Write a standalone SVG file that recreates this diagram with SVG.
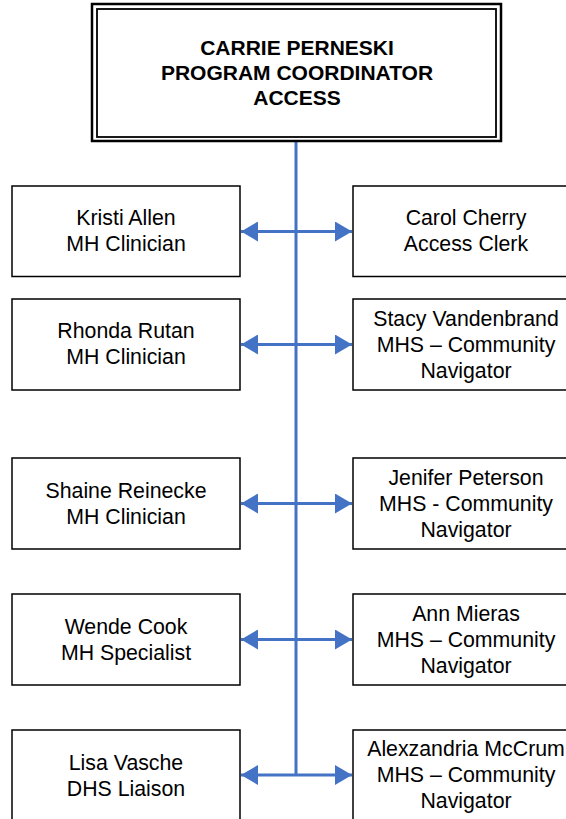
<svg xmlns="http://www.w3.org/2000/svg" width="566" height="819" viewBox="0 0 566 819">
<style>
.box{fill:#fff;stroke:#000;stroke-width:1.5}
.t{font-family:"Liberation Sans",Arial,sans-serif;font-size:21.3px;fill:#000;text-anchor:middle}
.h{font-family:"Liberation Sans",Arial,sans-serif;font-size:21px;font-weight:bold;fill:#000;text-anchor:middle}
.c{stroke:#4472C4;stroke-width:3;fill:none}
</style>
<defs>
<marker id="ah" viewBox="0 0 17 20" refX="17" refY="10" markerWidth="17" markerHeight="20" markerUnits="userSpaceOnUse" orient="auto-start-reverse">
<path d="M0,0 L17,10 L0,20 Z" fill="#4472C4"/>
</marker>
</defs>
<rect width="566" height="819" fill="#fff"/>
<g id="connectors">
<line class="c" x1="296" y1="141" x2="296" y2="775"/>
<line class="c" x1="241" y1="231.5" x2="352" y2="231.5" marker-start="url(#ah)" marker-end="url(#ah)"/>
<line class="c" x1="241" y1="344.5" x2="352" y2="344.5" marker-start="url(#ah)" marker-end="url(#ah)"/>
<line class="c" x1="241" y1="503.5" x2="352" y2="503.5" marker-start="url(#ah)" marker-end="url(#ah)"/>
<line class="c" x1="241" y1="639.5" x2="352" y2="639.5" marker-start="url(#ah)" marker-end="url(#ah)"/>
<line class="c" x1="241" y1="775" x2="352" y2="775" marker-start="url(#ah)" marker-end="url(#ah)"/>
</g>
<g id="n-carrie">
<rect x="92" y="4" width="409" height="137" fill="#fff" stroke="#000" stroke-width="2.5"/>
<rect x="97" y="9" width="399" height="128" fill="none" stroke="#000" stroke-width="1.8"/>
<text class="h" x="297" y="55">CARRIE PERNESKI</text>
<text class="h" x="297" y="80">PROGRAM COORDINATOR</text>
<text class="h" x="297" y="105">ACCESS</text>
</g>
<g id="n-kristi">
<rect class="box" x="12" y="186" width="228" height="90.5"/>
<text class="t" x="126" y="225">Kristi Allen</text>
<text class="t" x="126" y="251">MH Clinician</text>
</g>
<g id="n-carol">
<rect class="box" x="353" y="186" width="226" height="90.5"/>
<text class="t" x="466" y="225">Carol Cherry</text>
<text class="t" x="466" y="251">Access Clerk</text>
</g>
<g id="n-rhonda">
<rect class="box" x="12" y="299" width="228" height="91"/>
<text class="t" x="126" y="338">Rhonda Rutan</text>
<text class="t" x="126" y="364">MH Clinician</text>
</g>
<g id="n-stacy">
<rect class="box" x="353" y="299" width="226" height="91"/>
<text class="t" x="466" y="325.5">Stacy Vandenbrand</text>
<text class="t" x="466" y="351.5">MHS – Community</text>
<text class="t" x="466" y="377.5">Navigator</text>
</g>
<g id="n-shaine">
<rect class="box" x="12" y="458" width="228" height="91"/>
<text class="t" x="126" y="497.5">Shaine Reinecke</text>
<text class="t" x="126" y="523.5">MH Clinician</text>
</g>
<g id="n-jenifer">
<rect class="box" x="353" y="458" width="226" height="91"/>
<text class="t" x="466" y="484.5">Jenifer Peterson</text>
<text class="t" x="466" y="510.5">MHS - Community</text>
<text class="t" x="466" y="536.5">Navigator</text>
</g>
<g id="n-wende">
<rect class="box" x="12" y="594" width="228" height="91"/>
<text class="t" x="126" y="633.5">Wende Cook</text>
<text class="t" x="126" y="659.5">MH Specialist</text>
</g>
<g id="n-ann">
<rect class="box" x="353" y="594" width="226" height="91"/>
<text class="t" x="466" y="620.5">Ann Mieras</text>
<text class="t" x="466" y="646.5">MHS – Community</text>
<text class="t" x="466" y="672.5">Navigator</text>
</g>
<g id="n-lisa">
<rect class="box" x="12" y="730" width="228" height="91"/>
<text class="t" x="126" y="769.5">Lisa Vasche</text>
<text class="t" x="126" y="795.5">DHS Liaison</text>
</g>
<g id="n-alexzandria">
<rect class="box" x="353" y="730" width="226" height="91"/>
<text class="t" x="466" y="756">Alexzandria McCrum</text>
<text class="t" x="466" y="782">MHS – Community</text>
<text class="t" x="466" y="808">Navigator</text>
</g>
</svg>
